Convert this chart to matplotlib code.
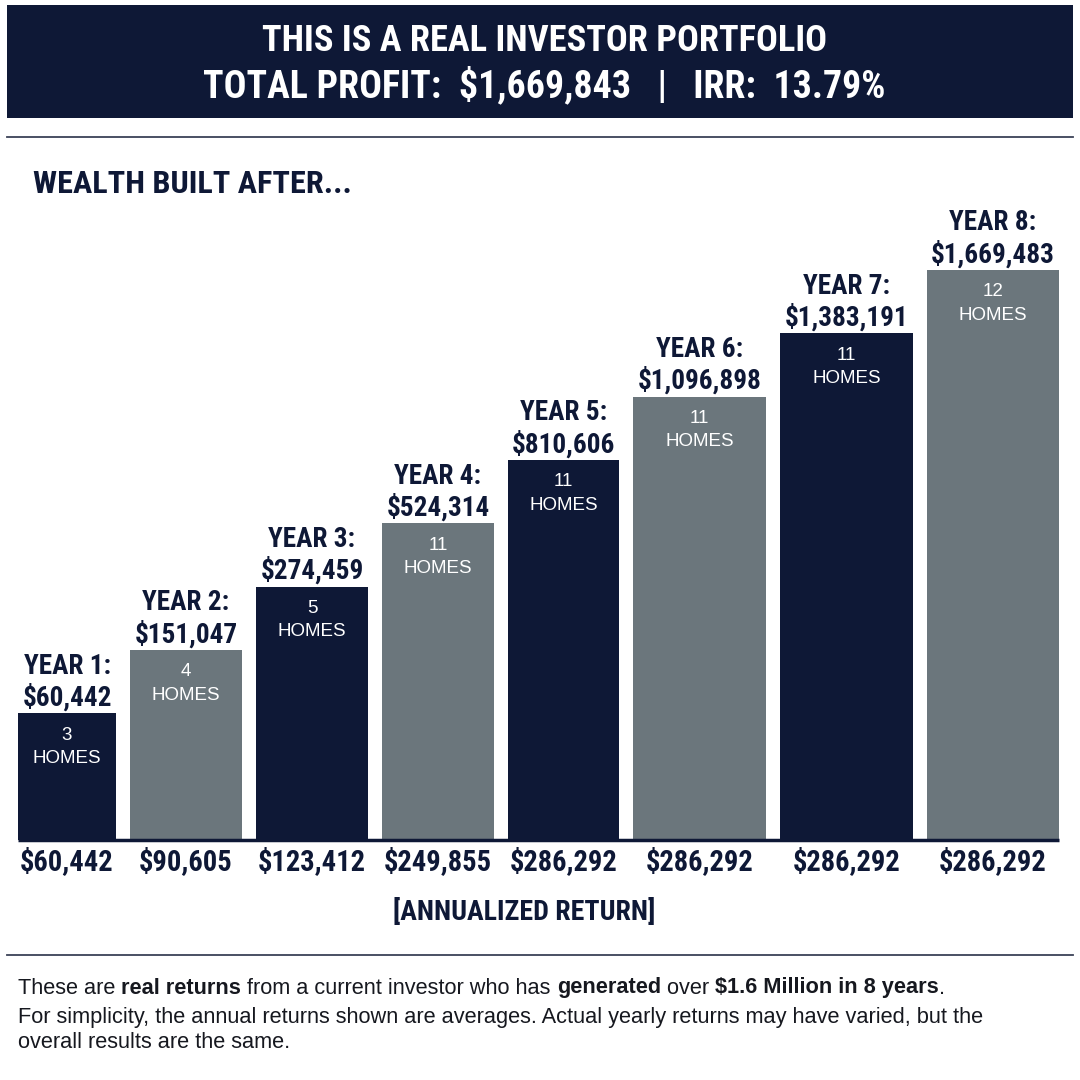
import matplotlib
matplotlib.use("Agg")
import matplotlib.pyplot as plt
from matplotlib.patches import Rectangle

# ---- data ----
years = ["YEAR 1:", "YEAR 2:", "YEAR 3:", "YEAR 4:",
         "YEAR 5:", "YEAR 6:", "YEAR 7:", "YEAR 8:"]
wealth = [60442, 151047, 274459, 524314, 810606, 1096898, 1383191, 1669483]
homes = [3, 4, 5, 11, 11, 11, 11, 12]
annual_return = [60442, 90605, 123412, 249855, 286292, 286292, 286292, 286292]
# bars in the original are equal steps, not drawn to scale
bar_levels = [2, 3, 4, 5, 6, 7, 8, 9]

title_lines = ["THIS IS A REAL INVESTOR PORTFOLIO",
               "TOTAL PROFIT:  $1,669,843   |   IRR:  13.79%"]
subtitle = "WEALTH BUILT AFTER..."
axis_note = "[ANNUALIZED RETURN]"
footer = [
    [("These are ", False), ("real returns", True),
     (" from a current investor who has ", False), ("generated", True),
     (" over ", False), ("$1.6 Million in 8 years", True), (".", False)],
    [("For simplicity, the annual returns shown are averages. Actual yearly "
      "returns may have varied, but the", False)],
    [("overall results are the same.", False)],
]

# ---- style / layout ----
NAVY = "#0e1836"
GRAY = "#6b767c"
RULE = "#3c4257"
HEAVY = ["Roboto Condensed", "DejaVu Sans"]
BODY = ["Liberation Sans", "DejaVu Sans"]
bar_widths = [98, 112, 112, 112, 111, 133, 133, 132]
bar_gap = 14
first_left = 18
baseline_px = 840
top_px = 270

fig = plt.figure(figsize=(10.8, 10.8), dpi=100)
fig.patch.set_facecolor("white")
renderer = fig.canvas.get_renderer()


def fit(t, width):
    # scale a text so its rendered width matches the reference
    w = t.get_window_extent(renderer).width
    t.set_fontsize(t.get_fontsize() * width / w)
    return t.get_fontsize()


# pixel-space layer for the furniture
deco = fig.add_axes([0, 0, 1, 1])
deco.set_xlim(0, 1080)
deco.set_ylim(1080, 0)
deco.axis("off")

deco.add_patch(Rectangle((7, 5), 1066, 113, color=NAVY, lw=0))
h1 = deco.text(545, 41, title_lines[0], color="white", family=HEAVY,
               weight="bold", fontsize=26, ha="center", va="center")
h2 = deco.text(544, 86, title_lines[1], color="white", family=HEAVY,
               weight="bold", fontsize=26, ha="center", va="center")
fit(h1, 566)
fit(h2, 682)
deco.plot([7, 1073], [137, 137], color=RULE, lw=1.3)
deco.plot([7, 1073], [955, 955], color=RULE, lw=1.3)
st = deco.text(33, 184, subtitle, color=NAVY, family=HEAVY, weight="bold",
               fontsize=23, ha="left", va="center")
fit(st, 319)
an = deco.text(524, 912, axis_note, color=NAVY, family=HEAVY, weight="bold",
               fontsize=19, ha="center", va="center")
fit(an, 262)

# bar chart
ax = fig.add_axes([0, (1080 - baseline_px) / 1080, 1,
                   (baseline_px - top_px) / 1080])
ax.set_xlim(0, 1080)
ax.set_ylim(0, max(bar_levels))
ax.axis("off")

lefts = []
x = first_left
for w in bar_widths:
    lefts.append(x)
    x += w + bar_gap
centers = [l + w / 2 for l, w in zip(lefts, bar_widths)]
colors = [NAVY if i % 2 == 0 else GRAY for i in range(len(years))]

ax.bar(lefts, bar_levels, width=bar_widths, align="edge", color=colors,
       linewidth=0)
ax.plot([lefts[0], lefts[-1] + bar_widths[-1]], [0, 0], color=NAVY, lw=2.5,
        solid_capstyle="butt", clip_on=False)

# font sizes matched to the widest labels
probe = ax.text(0, 0, f"${max(wealth):,}", family=HEAVY, weight="bold",
                fontsize=20)
label_size = fit(probe, 124)
probe.remove()
probe = ax.text(0, 0, f"${annual_return[2]:,}", family=HEAVY, weight="bold",
                fontsize=20)
return_size = fit(probe, 108)
probe.remove()

for i in range(len(years)):
    cx, top = centers[i], bar_levels[i]
    ax.annotate(years[i], (cx, top), xytext=(0, 47), textcoords="offset pixels",
                ha="center", va="center", color=NAVY, family=HEAVY,
                weight="bold", fontsize=label_size)
    ax.annotate(f"${wealth[i]:,}", (cx, top), xytext=(0, 16),
                textcoords="offset pixels", ha="center", va="center",
                color=NAVY, family=HEAVY, weight="bold", fontsize=label_size)
    ax.annotate(str(homes[i]), (cx, top), xytext=(0, -22),
                textcoords="offset pixels", ha="center", va="center",
                color="white", family=BODY, fontsize=13.5)
    ax.annotate("HOMES", (cx, top), xytext=(0, -45),
                textcoords="offset pixels", ha="center", va="center",
                color="white", family=BODY, fontsize=13.5)
    ax.annotate(f"${annual_return[i]:,}", (cx, 0), xytext=(0, -22),
                textcoords="offset pixels", ha="center", va="center",
                color=NAVY, family=HEAVY, weight="bold", fontsize=return_size,
                annotation_clip=False)


# footer with inline bold runs
def text_width(s, bold, size):
    wt = "bold" if bold else "normal"
    t = deco.text(0, 0, s + "|", family=BODY, fontsize=size, weight=wt)
    b = deco.text(0, 0, "|", family=BODY, fontsize=size, weight=wt)
    w = t.get_window_extent(renderer).width - b.get_window_extent(renderer).width
    t.remove()
    b.remove()
    return w


base = 14
line1 = sum(text_width(s, b, base) for s, b in footer[0])
foot_size = base * 934 / line1

for row, y in zip(footer, [988, 1017, 1043]):
    x = 18
    for s, bold in row:
        deco.text(x, y, s, family=BODY, fontsize=foot_size, color="#16181f",
                  weight="bold" if bold else "normal", ha="left", va="center")
        x += text_width(s, bold, foot_size)

fig.savefig("out.png", dpi=100, facecolor="white")
